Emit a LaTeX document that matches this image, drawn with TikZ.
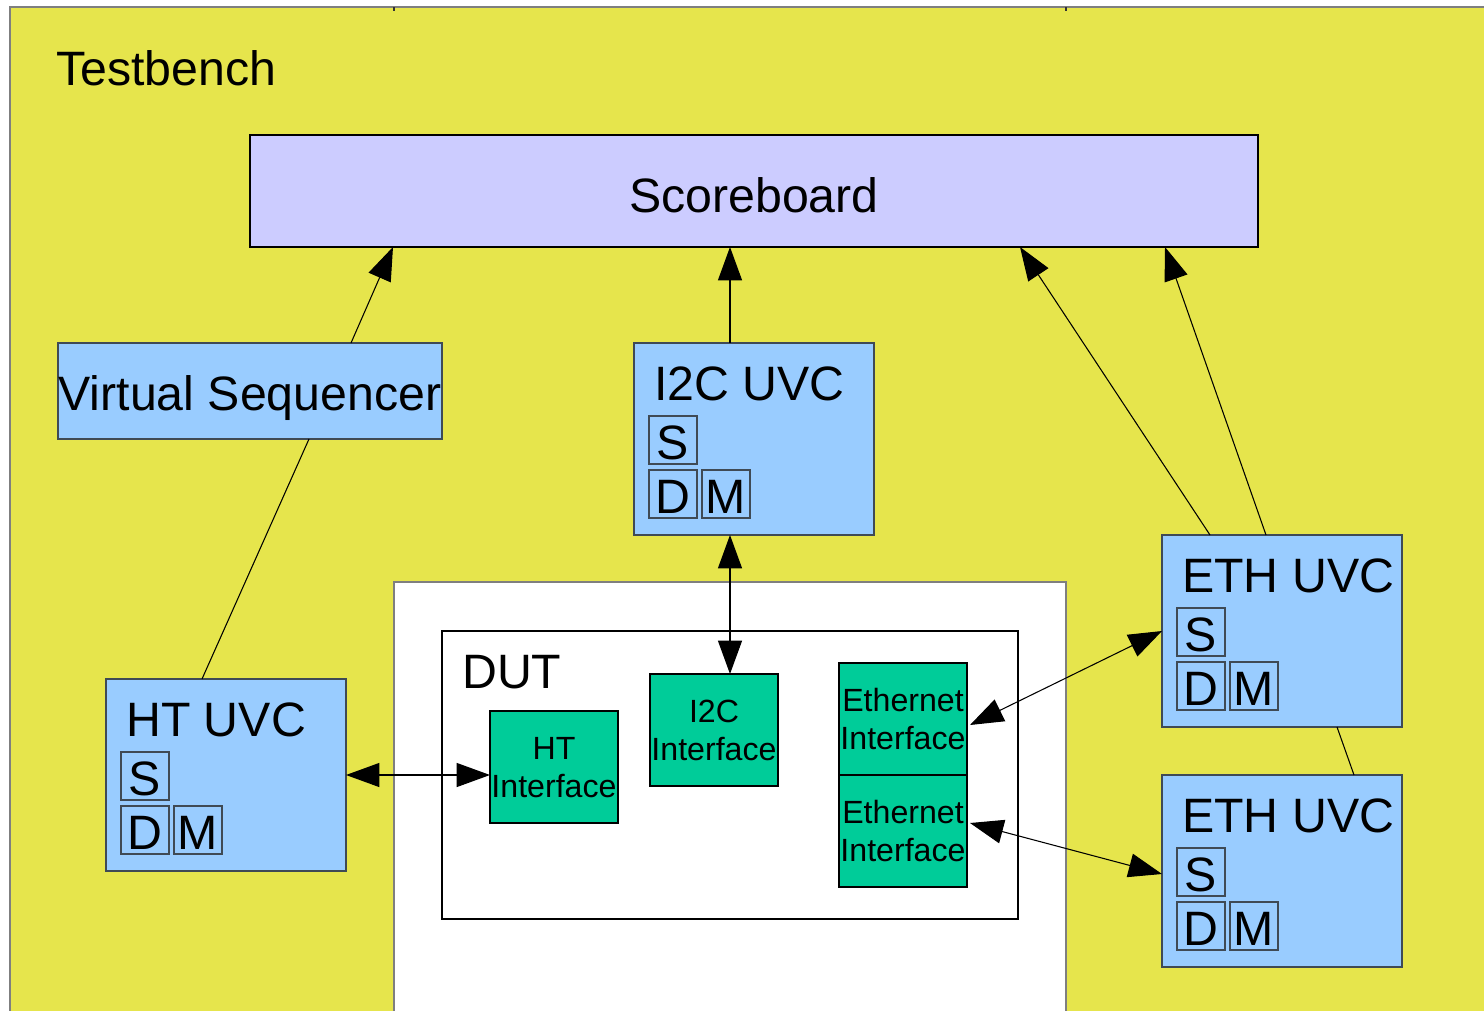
\documentclass[tikz,border=0pt]{standalone}
\usepackage{fontspec}
\setmainfont{Liberation Sans}
\usetikzlibrary{arrows.meta,calc}
\newlength\PX \setlength\PX{0.75pt}
\definecolor{tbyellow}{HTML}{E6E54C}
\definecolor{uvcblue}{HTML}{99CCFF}
\definecolor{sblav}{HTML}{CCCCFF}
\definecolor{ifgreen}{HTML}{00CC99}
\definecolor{uvcedge}{HTML}{3F4A55}
\definecolor{tbedge}{HTML}{7F7F7F}
\begin{document}
\begin{tikzpicture}[x=0.75pt,y=-0.75pt,
  bigtext/.style={font=\fontsize{36.2pt}{42pt}\selectfont},
  smalltext/.style={font=\fontsize{24.1pt}{28.5pt}\selectfont},
  box/.style={inner sep=0pt,outer sep=0pt},
  uvc/.style={box,draw=uvcedge,fill=uvcblue,line width=1.1pt,minimum width=240\PX,minimum height=192\PX},
  part/.style={box,draw=uvcedge,fill=uvcblue,line width=0.9pt,minimum width=48\PX,minimum height=48\PX,text height=38\PX,text depth=0pt,bigtext},
  iface/.style={box,draw=black,fill=ifgreen,line width=1.8pt,minimum width=128\PX,minimum height=112\PX,align=center,smalltext,text depth=-6\PX},
  title/.style={bigtext,anchor=base west,inner sep=0pt},
  conn/.style={draw=black,line width=0.8pt},
  onearrow/.style={-{Triangle[length=25pt,width=18pt]}},
  twoarrows/.style={{Triangle[length=25pt,width=18pt]}-{Triangle[length=25pt,width=18pt]}},
]
\clip (0,0) rectangle (1484,1010);
\fill[white] (0,0) rectangle (1484,1010);
% testbench area
\draw[tbedge,fill=tbyellow,line width=1.1pt] (10,7) rectangle (1500,1030);
\draw[tbedge,fill=white,line width=1.1pt] (394,582) rectangle (1066,1030);
\draw[black!80,line width=1pt] (394,7) -- (394,11);
\draw[black!80,line width=1pt] (1066,7) -- (1066,11);
\node[title] (tblabel) at (56,85) {Testbench};

% scoreboard
\node[box,draw=black,fill=sblav,line width=1.8pt,minimum width=1008\PX,minimum height=112\PX,text height=42\PX,text depth=0pt,bigtext] (sb) at (754,191) {Scoreboard};

% virtual sequencer
\node[box,draw=uvcedge,fill=uvcblue,line width=1.1pt,minimum width=384\PX,minimum height=96\PX,text height=38\PX,text depth=0pt,bigtext] (vs) at (250,391) {Virtual Sequencer};

% UVCs
\node[uvc] (i2c) at (754,439) {};
\node[uvc] (ht) at (226,775) {};
\node[uvc] (eth1) at (1282,631) {};
\node[uvc] (eth2) at (1282,871) {};
\foreach \u/\t in {i2c/I2C UVC,ht/HT UVC,eth1/ETH UVC,eth2/ETH UVC}{
  \node[title] (\u title) at ([xshift=20\PX,yshift=-57\PX]\u.north west) {\t};
  \node[part] (\u S) at ([xshift=39\PX,yshift=-97\PX]\u.north west) {S};
  \node[part] (\u D) at ([xshift=39\PX,yshift=-151\PX]\u.north west) {D};
  \node[part] (\u M) at ([xshift=92\PX,yshift=-151\PX]\u.north west) {M};
}

% DUT
\node[box,draw=black,fill=white,line width=1.8pt,minimum width=576\PX,minimum height=288\PX] (dut) at (730,775) {};
\node[title] (duttitle) at ([xshift=20\PX,yshift=-57\PX]dut.north west) {DUT};
\node[iface] (htif) at (554,767) {HT\\Interface};
\node[iface] (i2cif) at (714,730) {I2C\\Interface};
\node[iface] (eif1) at (903,719) {Ethernet\\Interface};
\node[iface] (eif2) at (903,831) {Ethernet\\Interface};

% connectors
\draw[conn,onearrow] ([xshift=293\PX]vs.north west) -- ([xshift=143\PX]sb.south west);
\draw[conn] ([xshift=96\PX]ht.north west) -- ([xshift=251\PX]vs.south west);
\draw[conn,onearrow] ([xshift=96\PX]i2c.north west) -- ([xshift=480\PX]sb.south west);
\draw[conn,twoarrows] ([xshift=96\PX]i2c.south west) -- ([xshift=80\PX]i2cif.north west);
\draw[conn,twoarrows] (ht.east) -- (ht.east -| htif.west);
\draw[conn,twoarrows] (eth1.west) -- ([xshift=3\PX,yshift=-6\PX]eif1.east);
\draw[conn,twoarrows] ([yshift=-3\PX]eth2.west) -- ([xshift=3\PX,yshift=8\PX]eif2.east);
\draw[conn,onearrow] ([xshift=48\PX]eth1.north west) -- ([xshift=770\PX]sb.south west);
\draw[conn,onearrow] ([xshift=104\PX]eth1.north west) -- ([xshift=915\PX]sb.south west);
\draw[conn] ([xshift=175\PX]eth1.south west) -- ([xshift=192\PX]eth2.north west);
\end{tikzpicture}
\end{document}
